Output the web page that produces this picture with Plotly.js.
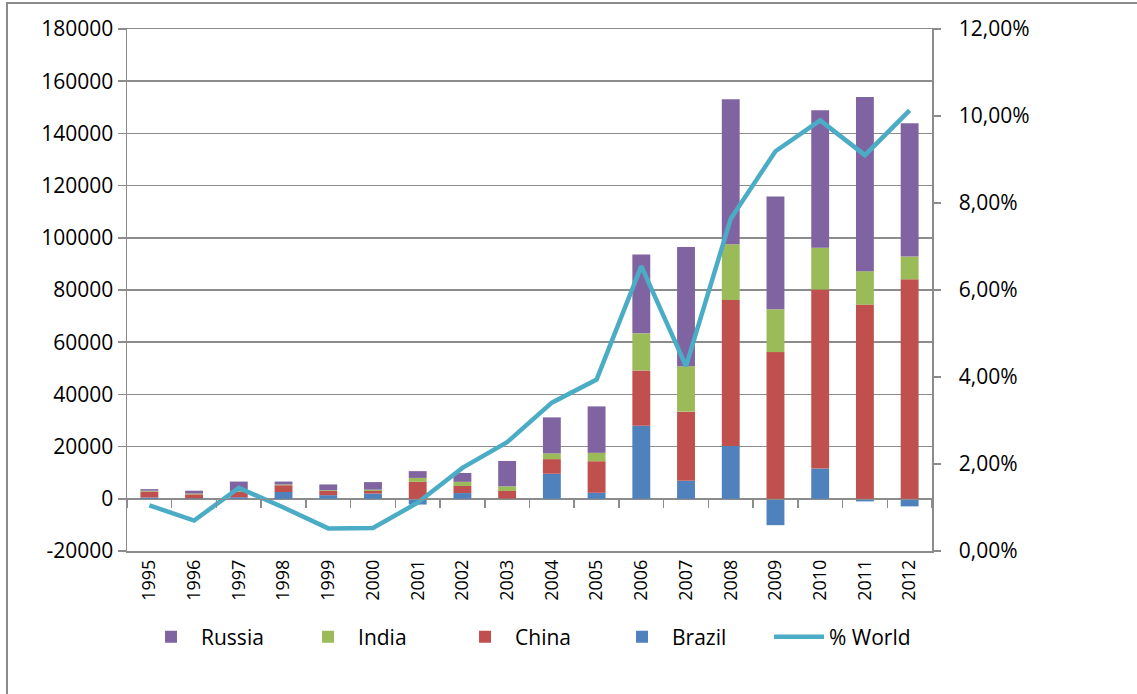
<!DOCTYPE html>
<html>
<head>
<meta charset="utf-8">
<script src="https://cdn.plot.ly/plotly-3.0.1.min.js"></script>
<style>
  html, body { margin: 0; padding: 0; background: #fff; overflow: hidden; }
  #chart { position: absolute; left: 0; top: 0; width: 1137px; height: 694px; }
  #frame { position: absolute; left: 6px; top: 2px; width: 1300px; height: 900px;
           border-left: 2px solid #8c8c8c; border-top: 2px solid #8c8c8c; pointer-events: none; }
</style>
</head>
<body>
<div id="chart"></div>
<div id="frame"></div>
<script>
const years = ["1995","1996","1997","1998","1999","2000","2001","2002","2003","2004","2005","2006","2007","2008","2009","2010","2011","2012"];
const brazil = [500, 200, 600, 2600, 1400, 2000, -2200, 2200, 100, 9600, 2300, 28000, 6900, 20200, -10100, 11600, -1000, -2900];
const china  = [2300, 1500, 2000, 2600, 1600, 1000, 6500, 2700, 2900, 5600, 12100, 21200, 26500, 56000, 56200, 68600, 74400, 84100];
const india  = [300, 300, 300, 300, 300, 500, 1500, 1600, 1800, 2200, 3200, 14200, 17400, 21300, 16400, 16000, 12800, 8700];
const russia = [600, 1100, 3700, 1100, 2200, 2900, 2600, 3400, 9700, 13800, 17800, 30200, 45700, 55600, 43200, 52700, 66700, 51100];
const worldShare = [0.0105, 0.0070, 0.0145, 0.0100, 0.0052, 0.0053, 0.0111, 0.0191, 0.0250, 0.0341, 0.0394, 0.0655, 0.0425, 0.0764, 0.0919, 0.0990, 0.0910, 0.1013];

const leftTickVals = [-20000, 0, 20000, 40000, 60000, 80000, 100000, 120000, 140000, 160000, 180000];
const leftTickText = ["-20000", "0", "20000", "40000", "60000", "80000", "100000", "120000", "140000", "160000", "180000"];

const FONT = "Open Sans, Noto Sans, sans-serif";
const GRID = "#8c8c8c";

function barTrace(name, vals, color, rank) {
  return { type: "bar", name: name, x: years, y: vals, xaxis: "x", yaxis: "y",
           marker: { color: color, line: { width: 0 } }, legendrank: rank, hoverinfo: "x+y+name" };
}

const data = [
  barTrace("Brazil", brazil, "#4F81BD", 4),
  barTrace("China", china, "#C0504D", 3),
  barTrace("India", india, "#9BBB59", 2),
  barTrace("Russia", russia, "#8064A2", 1),
  { type: "scatter", mode: "lines", name: "% World", x: years, y: worldShare,
    xaxis: "x", yaxis: "y2", legendrank: 5,
    line: { color: "#4BACC6", width: 4.5, shape: "linear" } },
  { type: "scatter", mode: "none", x: [-0.5, 17.5], y: [null, null], xaxis: "x2", yaxis: "y",
    showlegend: false, hoverinfo: "skip" }
];

const layout = {
  width: 1137, height: 694,
  margin: { l: 127, r: 205, t: 29, b: 143, pad: 0 },
  paper_bgcolor: "#ffffff", plot_bgcolor: "#ffffff",
  separators: ",.",
  barmode: "relative",
  bargap: 0.6,
  font: { family: FONT, size: 20, color: "#000" },
  showlegend: true,
  legend: {
    orientation: "h", x: 0.505, xanchor: "center", y: -0.165, yanchor: "middle",
    font: { family: FONT, size: 21, color: "#000" },
    itemwidth: 50, entrywidth: 92, bgcolor: "rgba(0,0,0,0)"
  },
  xaxis: {
    type: "category", categoryorder: "array", categoryarray: years,
    tickangle: -90, ticks: "", showgrid: false, zeroline: false,
    showline: true, mirror: true, linecolor: GRID, linewidth: 1.5,
    tickfont: { family: FONT, size: 18, color: "#000" }, automargin: false
  },
  xaxis2: {
    type: "linear", overlaying: "x", anchor: "free", position: 0.1,
    range: [-0.5, 17.5], tickmode: "linear", tick0: -0.5, dtick: 1,
    ticks: "outside", ticklen: 8, tickwidth: 1.5, tickcolor: GRID,
    showticklabels: false, showgrid: false, zeroline: false,
    showline: true, linecolor: GRID, linewidth: 1.5
  },
  yaxis: {
    range: [-20000, 180000], tickmode: "array", tickvals: leftTickVals, ticktext: leftTickText,
    ticks: "outside", ticklen: 8, tickwidth: 1.5, tickcolor: GRID,
    showline: true, linecolor: GRID, linewidth: 1.5,
    showgrid: true, gridcolor: GRID, gridwidth: 1.5, zeroline: false,
    tickfont: { family: FONT, size: 21, color: "#000" }, automargin: false
  },
  yaxis2: {
    overlaying: "y", side: "right", anchor: "x",
    range: [0, 0.12], tickmode: "linear", tick0: 0, dtick: 0.02, tickformat: ".2%",
    ticks: "outside", ticklen: 7, tickwidth: 1.5, tickcolor: GRID,
    showline: true, linecolor: GRID, linewidth: 1.5,
    showgrid: false, zeroline: false, ticklabelstandoff: 14,
    tickfont: { family: FONT, size: 21, color: "#000" }, automargin: false
  }
};

Plotly.newPlot("chart", data, layout, { staticPlot: true, displayModeBar: false });
</script>
</body>
</html>
